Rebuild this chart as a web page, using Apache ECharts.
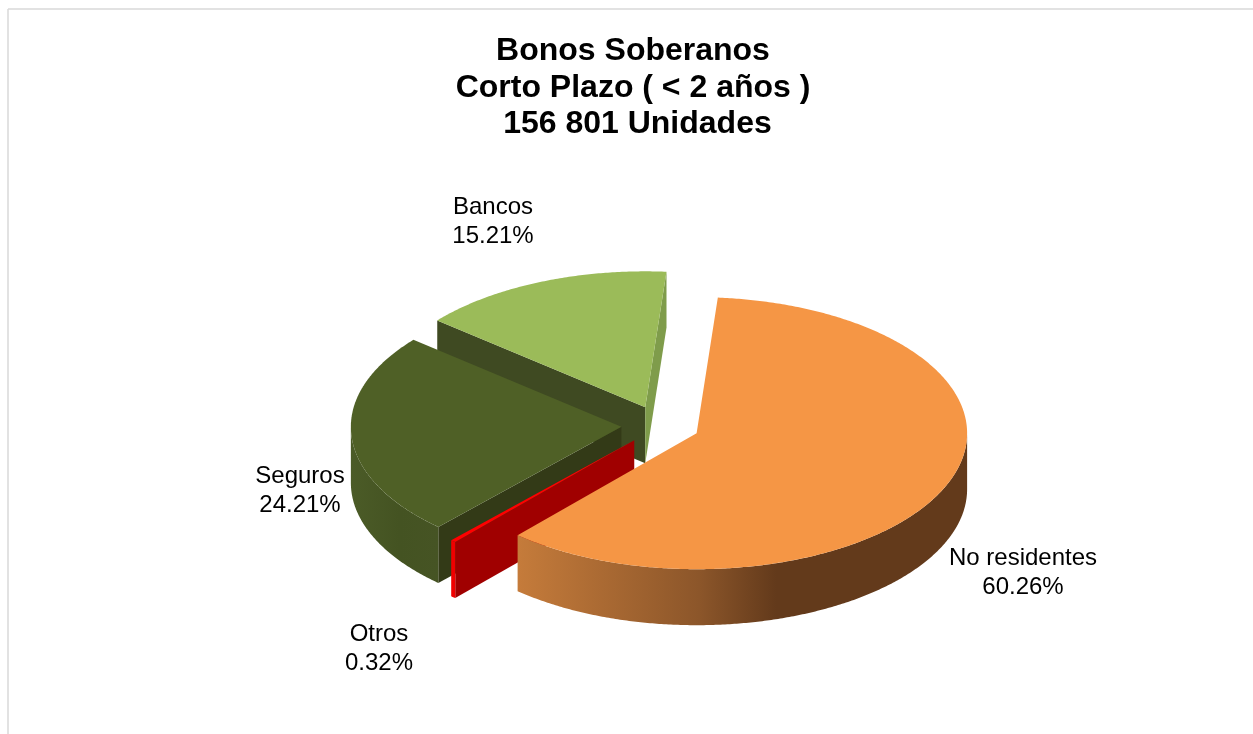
<!DOCTYPE html>
<html>
<head>
<meta charset="utf-8">
<script src="https://cdn.jsdelivr.net/npm/echarts@6/dist/echarts.min.js"></script>
<style>html,body{margin:0;padding:0;background:#fff}#c{width:1253px;height:734px}</style>
</head>
<body>
<div id="c"></div>
<script>
// ---- data (clockwise from the top of the pie) ----
const titleLines = ['Bonos Soberanos', 'Corto Plazo ( < 2 años )', ' 156 801 Unidades'];
const categories = ['No residentes', 'Otros', 'Seguros', 'Bancos'];
const shares = [60.26, 0.32, 24.21, 15.21];

// ---- layout and style ----
const FIRST_ANGLE = 4.5, CX = 660.5, CY = 425.5, RX = 270.5, RY = 136, DEPTH = 56, EXPLODE = 0.145;
const drawOrder = [4, 3, 2, 1];
const labelPos = [[1023, 573], [379, 649], [300, 491], [493, 222]];
const topColors = ['#f59645', '#ff0000', '#4f6026', '#9bbb59'];
const startFace = ['#8c562a', '#a00000', '#333a17', '#3f4a22'];
const endFace = ['#8c562a', '#a00000', '#333a17', '#7f9c4b'];
const sideStops = [
  [514, 966, [[0, '#c67c3b'], [0.41, '#8c562a'], [0.58, '#633a1b'], [1, '#633a1b']]],
  [450, 452, [[0, '#f00000'], [1, '#f00000']]],
  [352, 438, [[0, '#4b5b27'], [0.55, '#445322'], [1, '#465424']]],
  [0, 1, [[0, '#404e20'], [1, '#404e20']]]
];

const chart = echarts.init(document.getElementById('c'), null, {renderer: 'canvas'});
const rad = d => d * Math.PI / 180;
const total = shares.reduce((a, b) => a + b, 0);
const angles = [];
shares.reduce((acc, v) => {
  const span = v / total * 360;
  angles.push([acc, acc + span]);
  return acc + span;
}, FIRST_ANGLE);

const onEllipse = (ox, oy, deg) => [ox + RX * Math.sin(rad(deg)), oy - RY * Math.cos(rad(deg))];
const arc = (ox, oy, a, b) => {
  const pts = [], n = Math.max(2, Math.ceil((b - a) * 2));
  for (let i = 0; i <= n; i++) pts.push(onEllipse(ox, oy, a + (b - a) * i / n));
  return pts;
};

function renderItem(params, api) {
  const i = params.dataIndex;
  const [a, b] = angles[i];
  const mid = rad((a + b) / 2);
  const ox = CX + EXPLODE * RX * Math.sin(mid);
  const oy = CY - EXPLODE * RY * Math.cos(mid);
  const z = drawOrder[i] * 10;
  const children = [];
  const poly = (points, fill, z2) => children.push({
    type: 'polygon', z2, silent: true,
    shape: {points}, style: {fill, stroke: null}
  });
  const face = deg => {
    const p = onEllipse(ox, oy, deg);
    return [[ox, oy], p, [p[0], p[1] + DEPTH], [ox, oy + DEPTH]];
  };
  if (Math.sin(rad(a)) < 0) poly(face(a), startFace[i], z);
  if (Math.sin(rad(b)) > 0) poly(face(b), endFace[i], z);
  const s = Math.max(a, 90), e = Math.min(b, 270);
  if (e > s) {
    const upper = arc(ox, oy, s, e);
    const lower = upper.map(p => [p[0], p[1] + DEPTH]).reverse();
    const [x0, x1, stops] = sideStops[i];
    const fill = new echarts.graphic.LinearGradient(x0, 0, x1, 0,
      stops.map(t => ({offset: t[0], color: t[1]})), true);
    poly(upper.concat(lower), fill, z + 1);
  }
  poly([[ox, oy]].concat(arc(ox, oy, a, b)), topColors[i], z + 2);
  children.push({
    type: 'text', z2: 100, silent: true,
    style: {
      x: labelPos[i][0], y: labelPos[i][1],
      text: categories[i] + '\n' + api.value(0).toFixed(2) + '%',
      fill: '#000', font: '24px "Liberation Sans", Arial, sans-serif',
      lineHeight: 29, align: 'center', verticalAlign: 'middle'
    }
  });
  return {type: 'group', children};
}

chart.setOption({
  animation: false,
  backgroundColor: '#fff',
  title: {
    text: titleLines.join('\n'),
    left: 628, top: 28, textAlign: 'center',
    textStyle: {
      fontFamily: '"Liberation Sans", Arial, sans-serif',
      fontSize: 32, fontWeight: 'bold', color: '#000', lineHeight: 36.5
    }
  },
  graphic: [
    {type: 'line', silent: true, shape: {x1: 8, y1: 9, x2: 1253, y2: 9}, style: {stroke: '#d9d9d9', lineWidth: 1.5}},
    {type: 'line', silent: true, shape: {x1: 8, y1: 9, x2: 8, y2: 734}, style: {stroke: '#d9d9d9', lineWidth: 1.5}}
  ],
  series: [{
    type: 'custom',
    coordinateSystem: 'none',
    renderItem,
    clip: false,
    data: shares.map((v, i) => [v, i])
  }]
});
</script>
</body>
</html>
